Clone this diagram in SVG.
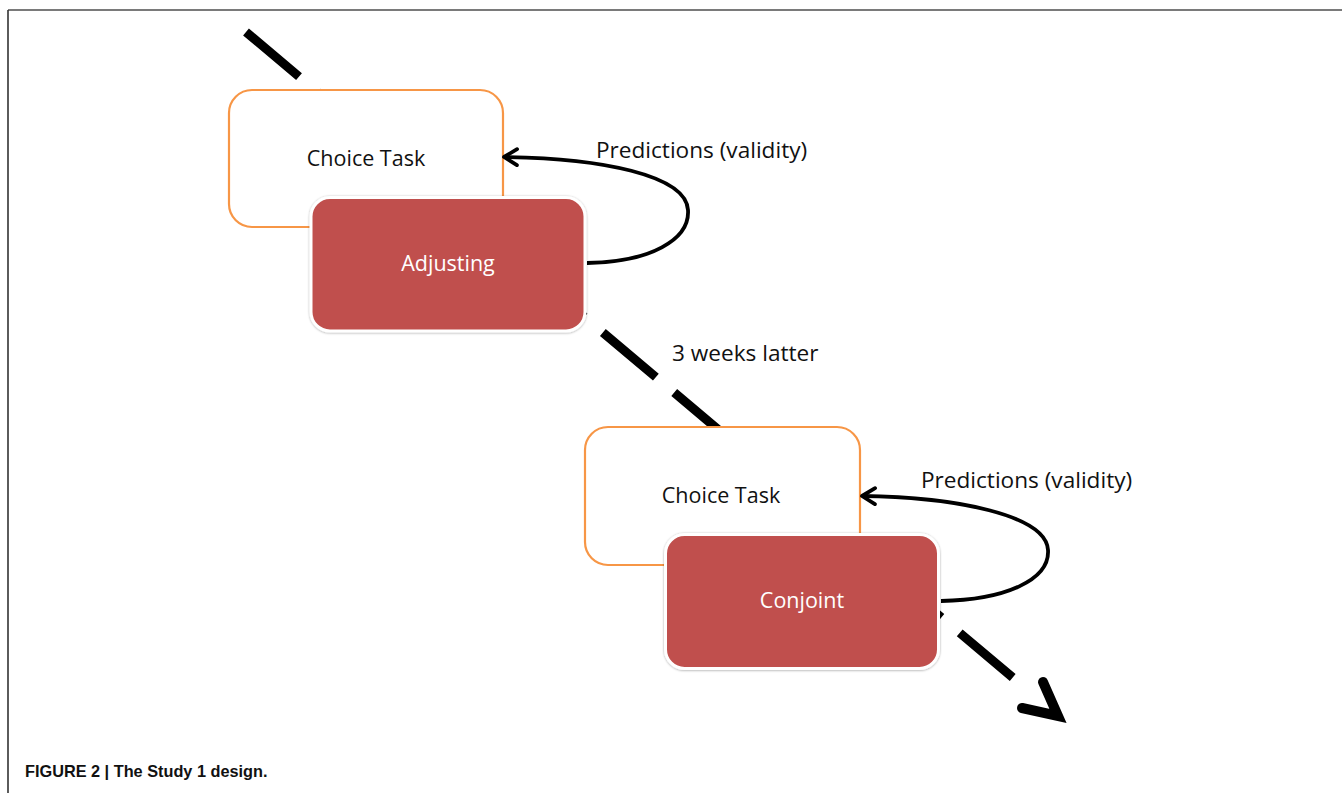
<svg xmlns="http://www.w3.org/2000/svg" width="1342" height="793" viewBox="0 0 1342 793">
  <style>
    .task { fill: #ffffff; stroke: #F79646; stroke-width: 2.2; }
    .method { fill: #C0504D; stroke: #ffffff; stroke-width: 3; filter: url(#shade); }
    .label { font-family: "Open Sans", "Noto Sans", sans-serif; font-size: 21.5px; fill: #111111; }
    .note { font-size: 22.6px; }
    .white { fill: #ffffff; text-anchor: middle; }
    .center { text-anchor: middle; }
    .loop { fill: none; stroke: #000000; stroke-width: 3.8; }
    .timeline { fill: none; stroke: #000000; stroke-width: 9; }
    .caption { font-family: "Liberation Sans", Arial, sans-serif; font-weight: bold; font-size: 16.3px; fill: #111111; }
  </style>
  <defs>
    <filter id="shade" x="-10%" y="-10%" width="120%" height="120%">
      <feDropShadow dx="0" dy="0.5" stdDeviation="1.3" flood-color="#000000" flood-opacity="0.35"/>
    </filter>
    <marker id="open-head" viewBox="0 0 20 20" refX="17" refY="10" markerWidth="20" markerHeight="20" markerUnits="userSpaceOnUse" orient="auto">
      <polyline points="4,2 17,10 4,18" fill="none" stroke="#000000" stroke-width="3.8" stroke-linecap="round" stroke-linejoin="round"/>
    </marker>
  </defs>

  <!-- panel frame -->
  <rect x="0" y="0" width="1342" height="793" fill="#ffffff"/>
  <line x1="8" y1="10" x2="1342" y2="10" stroke="#7a7a7a" stroke-width="2"/>
  <line x1="8" y1="10" x2="8" y2="793" stroke="#333333" stroke-width="1.6"/>

  <!-- connectors -->
  <g id="connectors">
    <!-- time line running behind the tasks -->
    <line id="timeline" class="timeline" x1="246" y1="32" x2="1013" y2="677.8" stroke-dasharray="69.3 24"/>
    <polyline id="timeline-head" points="1022,708 1058,716 1043,682" fill="none" stroke="#000000" stroke-width="10" stroke-linejoin="miter" stroke-linecap="round"/>
  </g>

  <!-- session 1 -->
  <g id="choice-task-1">
    <rect class="task" x="229" y="90" width="274" height="137" rx="23"/>
    <text class="label center" x="366" y="166">Choice Task</text>
  </g>
  <g id="adjusting">
    <rect class="method" x="311" y="197.5" width="274" height="133.5" rx="19"/>
    <text class="label white" x="448" y="271">Adjusting</text>
  </g>

  <!-- session 2 -->
  <g id="choice-task-2">
    <rect class="task" x="585" y="427" width="275" height="138" rx="23"/>
    <text class="label center" x="721" y="503">Choice Task</text>
  </g>
  <g id="conjoint">
    <rect class="method" x="665.5" y="534.5" width="273" height="134" rx="19"/>
    <text class="label white" x="802" y="608">Conjoint</text>
  </g>

  <!-- validity loops -->
  <g id="loops">
    <path class="loop" d="M587,263 C650,262 690,240 688,210 C686,175 600,158 504,157" marker-end="url(#open-head)"/>
    <path class="loop" d="M941,601 C1005,600 1050,580 1048,550 C1046,515 955,497 862,496" marker-end="url(#open-head)"/>
  </g>

  <!-- labels -->
  <g id="labels">
    <text class="label note" x="596" y="158">Predictions (validity)</text>
    <text class="label note" x="672" y="361">3 weeks latter</text>
    <text class="label note" x="921" y="488">Predictions (validity)</text>
  </g>

  <text class="caption" x="25" y="777">FIGURE 2 | The Study 1 design.</text>
</svg>
